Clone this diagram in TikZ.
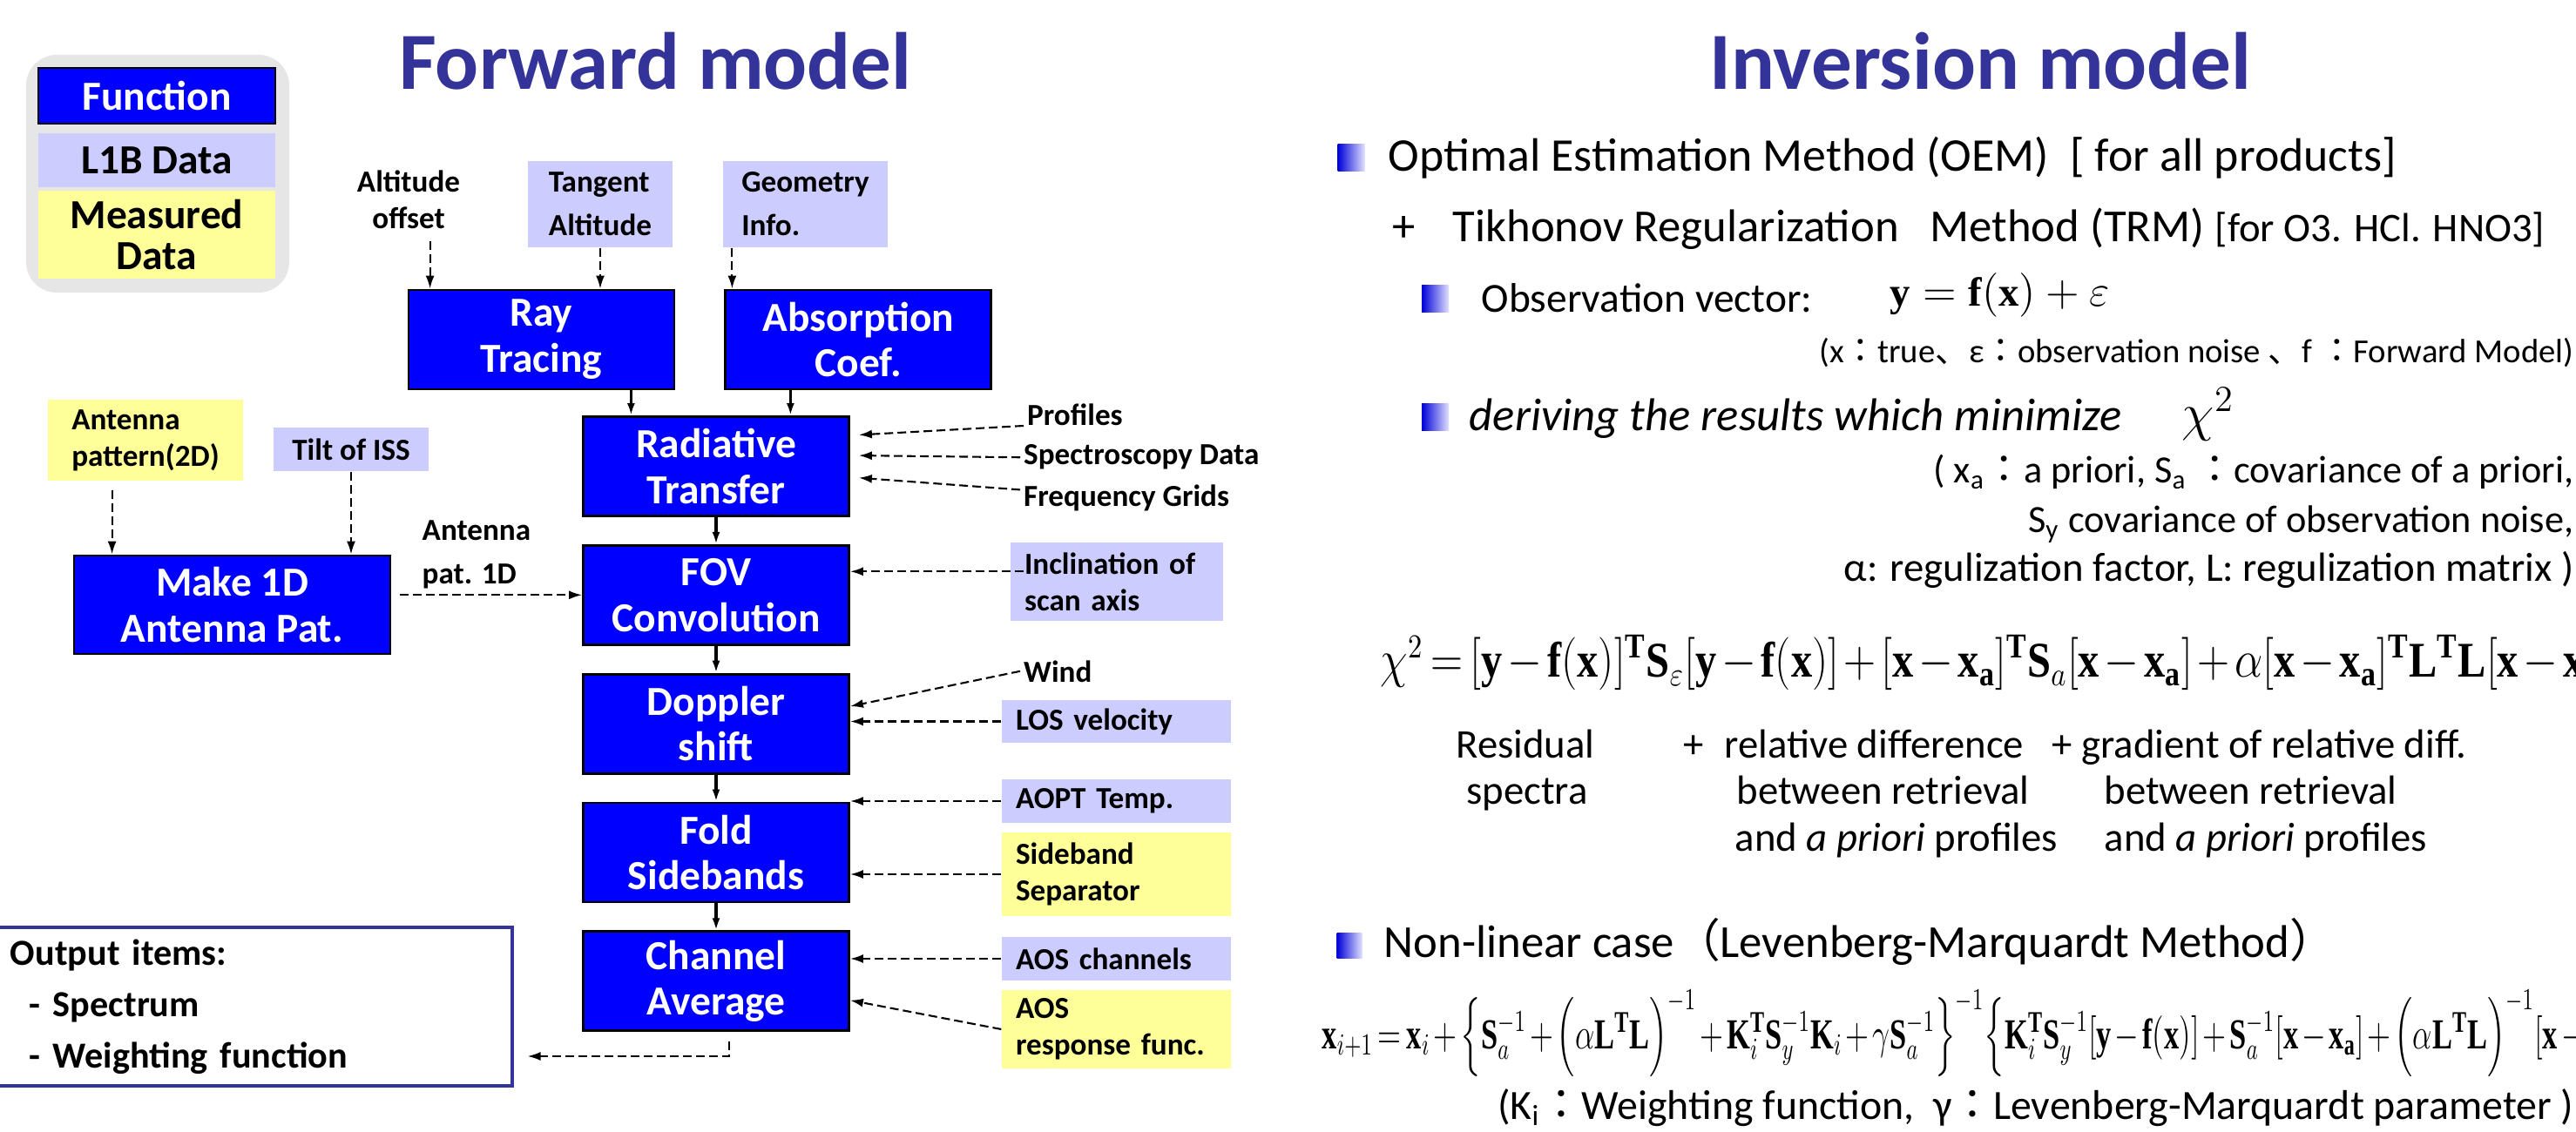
\documentclass[tikz,border=0pt]{standalone}
\usepackage{amsmath}
\usepackage{graphicx}
\usepackage{fontspec}
\setmainfont{Carlito}
\newfontfamily\eqfont{Liberation Serif}
\newfontfamily\cjk{Noto Sans CJK JP}
\usetikzlibrary{arrows.meta,positioning}
\definecolor{fnblue}{HTML}{0000FF}
\definecolor{lbdlav}{HTML}{CCCCFF}
\definecolor{msdyel}{HTML}{FFFF99}
\definecolor{legbg}{HTML}{E6E6E6}
\definecolor{ttlblue}{HTML}{333399}
\newcommand{\fsz}[2]{\fontsize{#1}{#2}\selectfont}
\newcommand{\jc}[1]{{\cjk #1}}
\newcommand{\bv}[1]{\text{\eqfont\bfseries\upshape #1}}
\newcommand{\tightmath}{\medmuskip=2mu\thickmuskip=3mu}

\begin{document}
\begin{tikzpicture}[
  node distance=3.1mm,
  fn/.style={draw=black, line width=0.8pt, fill=fnblue, text=white, align=center, font=\bfseries\fsz{13.5}{15}, minimum width=3.05cm, minimum height=1.14cm, inner sep=1pt},
  lbd/.style={fill=lbdlav, font=\bfseries\fsz{10}{12}, inner sep=1pt},
  msd/.style={fill=msdyel, font=\bfseries\fsz{10}{12}, inner sep=1pt},
  side/.style={align=left, text width=2.31cm, inner xsep=1.6mm, minimum height=0.5cm},
  lbl/.style={align=left, font=\bfseries\fsz{10}{12}, inner sep=1pt},
  ttl/.style={font=\bfseries\fsz{26.5}{30}, text=ttlblue, anchor=base},
  txt/.style={anchor=base west, inner sep=0pt, font=\fsz{15}{18}},
  note/.style={anchor=base east, inner sep=0pt, font=\fsz{13.3}{16}},
  small/.style={anchor=base west, inner sep=0pt, font=\fsz{13.3}{16}},
  bul/.style={minimum width=3.1mm, minimum height=3.1mm, inner sep=0pt, left color=blue!85!black, right color=blue!12},
  arr/.style={-{Latex[length=1.4mm,width=0.9mm]}, line width=0.9pt},
  darr/.style={-{Latex[length=1.5mm,width=1mm]}, line width=0.6pt, dash pattern=on 1mm off 0.5mm}
]
\useasboundingbox (0,0) rectangle (29.57,-13);
\clip (0,0) rectangle (29.57,-13);

% legend
\node[fill=legbg, rounded corners=3.5mm, minimum width=3.02cm, minimum height=2.73cm] (legend) at (1.81,-1.995) {};
\node[fn, minimum width=2.72cm, minimum height=0.64cm] (legfn) at (1.80,-1.10) {Function};
\node[lbd, font=\bfseries\fsz{13.5}{15}, minimum width=2.72cm, minimum height=0.62cm] (leglbd) at (1.80,-1.84) {L1B Data};
\node[msd, align=center, font=\bfseries\fsz{13.5}{13.5}, minimum width=2.72cm, minimum height=1.01cm] (legmsd) at (1.80,-2.695) {Measured\\Data};

% titles
\node[ttl] (fwdttl) at (7.525,-1.03) {Forward model};
\node[ttl] (invttl) at (22.735,-1.03) {Inversion model};

% forward model
\node[lbl, align=center] (altoff) at (4.69,-2.29) {Altitude\\offset};
\node[lbd, align=left, font=\bfseries\fsz{10}{14.2}, minimum width=1.66cm, minimum height=0.99cm] (tanalt) at (6.89,-2.345) {Tangent\\Altitude};
\node[lbd, align=left, font=\bfseries\fsz{10}{14.2}, minimum width=1.89cm, minimum height=0.99cm] (geoinf) at (9.245,-2.345) {Geometry\\Info.};
\node[fn] (ray) at (6.215,-3.90) {Ray\\Tracing};
\node[fn, right=5.6mm of ray] (absc) {Absorption\\Coef.};
\node[fn] (rad) at (8.22,-5.355) {Radiative\\Transfer};
\node[fn, below=of rad] (fov) {FOV\\Convolution};
\node[fn, below=of fov] (dop) {Doppler\\shift};
\node[fn, below=of dop] (fold) {Fold\\Sidebands};
\node[fn, below=of fold] (chav) {Channel\\Average};

\node[lbl, anchor=base west] (prof) at (11.75,-4.89) {Profiles};
\node[lbl, anchor=base west] (spec) at (11.71,-5.34) {Spectroscopy Data};
\node[lbl, anchor=base west] (freq) at (11.71,-5.82) {Frequency Grids};

\node[msd, align=left, minimum width=2.24cm, minimum height=0.93cm] (ant2d) at (1.67,-5.055) {Antenna\\pattern(2D)};
\node[lbd, minimum width=1.78cm, minimum height=0.50cm] (tilt) at (4.03,-5.16) {Tilt of ISS};
\node[fn, minimum width=3.63cm, minimum height=1.13cm] (make1d) at (2.665,-6.945) {Make 1D\\Antenna Pat.};
\node[lbl, anchor=north west, font=\bfseries\fsz{10}{14.2}] (antlbl) at (4.805,-5.935) {Antenna\\pat. 1D};

\node[lbd, side, text width=2.12cm, minimum height=0.90cm] (incl) at (12.82,-6.68) {Inclination of\\scan axis};
\node[lbl, anchor=base west] (wind) at (11.71,-7.83) {Wind};
\node[lbd, side, minimum height=0.49cm] (los) at (12.815,-8.285) {LOS velocity};
\node[lbd, side] (aopt) at (12.815,-9.20) {AOPT Temp.};
\node[msd, side, minimum height=0.96cm] (sbs) at (12.815,-10.04) {Sideband\\Separator};
\node[lbd, side] (aosch) at (12.815,-11.01) {AOS channels};
\node[msd, side, minimum height=0.90cm] (aosrf) at (12.815,-11.82) {AOS\\response func.};

\node[draw=ttlblue, line width=0.9pt, text width=5.59cm, inner xsep=1.7mm, minimum height=1.82cm, align=left, font=\bfseries\fsz{12}{16.8}] (outp) at (2.915,-11.56) {Output items:\\\hspace*{2.2mm}- Spectrum\\\hspace*{2.2mm}- Weighting function};

\coordinate (altin) at ([xshift=2.6mm]ray.north west);
\coordinate (geoin) at ([xshift=0.9mm]absc.north west);
\coordinate (rayout) at ([xshift=-5.1mm]ray.south east);
\coordinate (absout) at ([xshift=7.6mm]absc.south west);
\coordinate (antin) at ([xshift=4.5mm]make1d.north west);
\coordinate (inclin) at ([yshift=2.7mm]fov.east);
\coordinate (outin) at ([xshift=1.6mm,yshift=-5.7mm]outp.east);

\draw[darr, shorten <=1mm] (altin |- altoff.south) -- (altin);
\draw[darr] (tanalt.south) -- (tanalt.south |- ray.north);
\draw[darr] (geoin |- geoinf.south) -- (geoin);
\draw[arr] (rayout) -- (rayout |- rad.north);
\draw[arr] (absout) -- (absout |- rad.north);
\draw[arr] (rad) -- (fov); \draw[arr] (fov) -- (dop);
\draw[arr] (dop) -- (fold); \draw[arr] (fold) -- (chav);
\draw[darr, shorten >=1mm] (prof.base west) -- ([yshift=3.55mm]rad.east);
\draw[darr, shorten >=1mm] (spec.west) -- ([yshift=1.25mm]rad.east);
\draw[darr, shorten >=1mm] ([yshift=1mm]freq.west) -- ([yshift=-1.25mm]rad.east);
\draw[darr, shorten <=1mm] (antin |- ant2d.south) -- (antin);
\draw[darr] (tilt.south) -- (tilt.south |- make1d.north);
\draw[darr, shorten <=1mm] (make1d.east |- fov.west) -- (fov.west);
\draw[darr, shorten <=-1.6mm] (incl.west |- inclin) -- (inclin);
\draw[darr] (wind.west) -- ([yshift=2mm]dop.east);
\draw[darr] (los.west) -- (los.west -| dop.east);
\draw[darr] (aopt.west) -- (aopt.west -| fold.east);
\draw[darr] (sbs.west) -- (sbs.west -| fold.east);
\draw[darr] (aosch.west) -- (aosch.west -| chav.east);
\draw[darr] (aosrf.west) -- ([yshift=-2.2mm]chav.east);
\draw[darr] ([xshift=1.5mm,yshift=-1.1mm]chav.south) |- (outin);

% inversion model
\node[bul] (b1) at (15.51,-1.815) {};
\node[txt, font=\fsz{15.3}{18}] (oem) at (15.93,-1.97) {Optimal Estimation Method (OEM)\ \ [ for all products]};
\node[txt] (plus) at (15.98,-2.78) {+};
\node[txt] (trm) at (16.67,-2.78) {Tikhonov Regularization\ \ \ Method (TRM) {\fsz{13.3}{16}[for O3. HCl. HNO3]}};
\node[bul] (b2) at (16.475,-3.435) {};
\node[txt, font=\fsz{13.5}{16}] (obs) at (17.00,-3.59) {Observation vector:};
\node[txt, font=\fsz{13.3}{16}] (fwdeq) at (21.69,-3.52) {$\bv{y}=\bv{f}(\bv{x})+\varepsilon$};
\node[note, font=\fsz{11}{13}] (obsnote) at (29.55,-4.17) {(x\jc{：}true\jc{、}ε\jc{：}observation noise \jc{、}f \jc{：}Forward Model)};
\node[bul] (b3) at (16.475,-4.79) {};
\node[txt, font=\itshape\fsz{15}{18}] (derive) at (16.86,-4.95) {deriving the results which minimize};
\node[txt, font=\fsz{16.5}{20}] (chisq) at (25.04,-4.95) {$\chi^{2}$};
\node[note, font=\fsz{12.6}{15}] (prior1) at (29.55,-5.55) {( x\textsubscript{a}\jc{：}a priori, S\textsubscript{a} \jc{：}covariance of a priori,};
\node[note, font=\fsz{12.6}{15}] (prior2) at (29.55,-6.12) {S\textsubscript{y} covariance of observation noise,};
\node[note] (prior3) at (29.55,-6.68) {α: regulization factor, L: regulization matrix )};
\node[txt, font=\fsz{16.3}{20}] (chieq) at (15.84,-7.78) {\scalebox{0.845}[1]{$\tightmath\chi^{2}=[\bv{y}-\bv{f}(\bv{x})]^{\bv{T}}\bv{S}_{\varepsilon}[\bv{y}-\bv{f}(\bv{x})]+[\bv{x}-\bv{x}_{\bv{a}}]^{\bv{T}}\bv{S}_{a}[\bv{x}-\bv{x}_{\bv{a}}]+\alpha[\bv{x}-\bv{x}_{\bv{a}}]^{\bv{T}}\bv{L}^{\bv{T}}\bv{L}[\bv{x}-\bv{x}_{\bv{a}}]$}};

\node[small, anchor=base] (resid1) at (17.51,-8.70) {Residual};
\node[small, anchor=base] (resid2) at (17.53,-9.23) {spectra};
\node[small] (plus1) at (19.32,-8.70) {+};
\node[small] (rel1) at (19.79,-8.70) {relative difference};
\node[small] (rel2) at (19.93,-9.23) {between retrieval};
\node[small] (rel3) at (19.91,-9.77) {and \textit{a priori} profiles};
\node[small] (grad1) at (23.55,-8.70) {+ gradient of relative diff.};
\node[small] (grad2) at (24.15,-9.23) {between retrieval};
\node[small] (grad3) at (24.15,-9.77) {and \textit{a priori} profiles};

\node[bul, minimum size=2.9mm] (b4) at (15.49,-10.855) {};
\node[txt, font=\fsz{15}{17}] (nonlin) at (15.88,-10.99) {Non-linear case\jc{（}Levenberg-Marquardt Method\jc{）}};
\node[txt, font=\fsz{14}{17}] (lmeq) at (15.17,-12.04) {\scalebox{0.70}[1]{$\tightmath\bv{x}_{i+1}=\bv{x}_{i}+\Bigl\{\bv{S}_{a}^{-1}+\Bigl(\alpha\bv{L}^{\bv{T}}\bv{L}\Bigr)^{-1}+\bv{K}_{i}^{\bv{T}}\bv{S}_{y}^{-1}\bv{K}_{i}+\gamma\bv{S}_{a}^{-1}\Bigr\}^{-1}\Bigl\{\bv{K}_{i}^{\bv{T}}\bv{S}_{y}^{-1}[\bv{y}-\bv{f}(\bv{x})]+\bv{S}_{a}^{-1}[\bv{x}-\bv{x}_{\bv{a}}]+\Bigl(\alpha\bv{L}^{\bv{T}}\bv{L}\Bigr)^{-1}[\bv{x}-\bv{x}_{\bv{a}}]\Bigr\}$}};
\node[note, font=\fsz{13.6}{16}] (lmnote) at (29.55,-12.85) {(K\textsubscript{i}\jc{：}Weighting function,\ \ γ\jc{：}Levenberg-Marquardt parameter )};
\end{tikzpicture}
\end{document}
